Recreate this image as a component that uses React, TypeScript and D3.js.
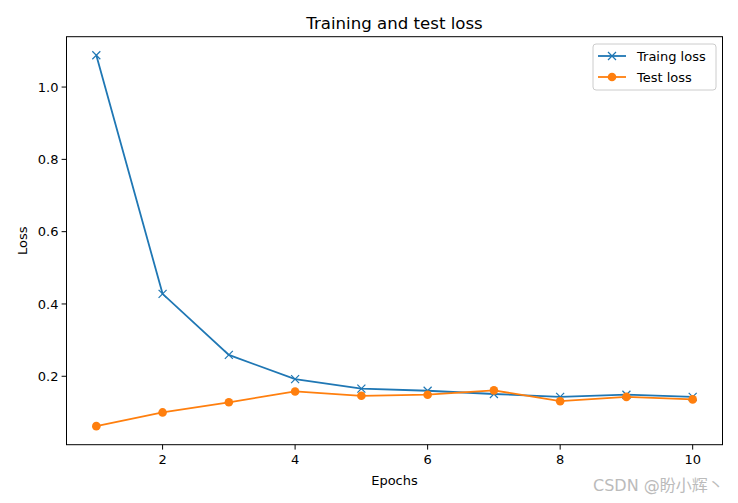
import React from "react";
import * as d3 from "d3";

const epochs = [1, 2, 3, 4, 5, 6, 7, 8, 9, 10];
const trainLoss = [1.088, 0.428, 0.259, 0.192, 0.166, 0.16, 0.151, 0.143, 0.149, 0.143];
const testLoss = [0.062, 0.1, 0.128, 0.158, 0.146, 0.149, 0.161, 0.131, 0.143, 0.136];
const xTicks = [2, 4, 6, 8, 10];
const yTicks = [0.2, 0.4, 0.6, 0.8, 1.0];

const W = 738, H = 503;
const L = 66.5, R = 722.5, T = 36.7, B = 444.7;
const BLUE = "#1f77b4", ORANGE = "#ff7f0e";
const FONT = "DejaVu Sans, sans-serif";

export default function App() {
  const x = d3.scaleLinear().domain([0.55, 10.45]).range([L, R]);
  const y = d3.scaleLinear().domain([0.0107, 1.1393]).range([B, T]);
  const line = (vals: number[]) =>
    d3.line<number>().x((_, i) => x(epochs[i])).y((v) => y(v))(vals) || "";
  const cross = (cx: number, cy: number, s = 4, key?: any) => (
    <path key={key} d={`M${cx - s},${cy - s}L${cx + s},${cy + s}M${cx - s},${cy + s}L${cx + s},${cy - s}`} stroke={BLUE} strokeWidth={1.2} fill="none" />
  );
  return (
    <svg width={W} height={H} style={{ position: "absolute", left: 0, top: 0 }} fontFamily={FONT}>
      <rect width={W} height={H} fill="#fff" />
      <text x={(L + R) / 2} y={29} textAnchor="middle" fontSize={16.6}>Training and test loss</text>
      {xTicks.map((t) => (
        <g key={t}>
          <line x1={x(t)} x2={x(t)} y1={B} y2={B + 4.9} stroke="#000" strokeWidth={1} />
          <text x={x(t)} y={B + 19} textAnchor="middle" fontSize={13}>{t}</text>
        </g>
      ))}
      {yTicks.map((t) => (
        <g key={t}>
          <line x1={L - 4.9} x2={L} y1={y(t)} y2={y(t)} stroke="#000" strokeWidth={1} />
          <text x={L - 8} y={y(t) + 4.6} textAnchor="end" fontSize={13}>{t.toFixed(1)}</text>
        </g>
      ))}
      <text x={(L + R) / 2} y={484.5} textAnchor="middle" fontSize={13}>Epochs</text>
      <text transform={`translate(26.5,${(T + B) / 2}) rotate(-90)`} textAnchor="middle" fontSize={13}>Loss</text>
      <path d={line(trainLoss)} stroke={BLUE} strokeWidth={1.8} fill="none" />
      {trainLoss.map((v, i) => cross(x(epochs[i]), y(v), 4, "c" + i))}
      <path d={line(testLoss)} stroke={ORANGE} strokeWidth={1.8} fill="none" />
      {testLoss.map((v, i) => (
        <circle key={i} cx={x(epochs[i])} cy={y(v)} r={4.3} fill={ORANGE} />
      ))}
      <rect x={L} y={T} width={R - L} height={B - T} fill="none" stroke="#000" strokeWidth={1} />
      <g>
        <rect x={593} y={44} width={123} height={46} rx={3} fill="#fff" fillOpacity={0.8} stroke="#ccc" strokeWidth={1} />
        <line x1={598} x2={626} y1={56} y2={56} stroke={BLUE} strokeWidth={1.8} />
        {cross(612, 56, 4)}
        <text x={637} y={60.5} fontSize={13}>Traing loss</text>
        <line x1={598} x2={626} y1={77} y2={77} stroke={ORANGE} strokeWidth={1.8} />
        <circle cx={612} cy={77} r={4.3} fill={ORANGE} />
        <text x={637} y={81.5} fontSize={13}>Test loss</text>
      </g>
      <text x={593} y={491} fontSize={16} fill="#bbb" fontFamily="DejaVu Sans, Noto Sans CJK SC, sans-serif">CSDN @盼小辉丶</text>
    </svg>
  );
}
